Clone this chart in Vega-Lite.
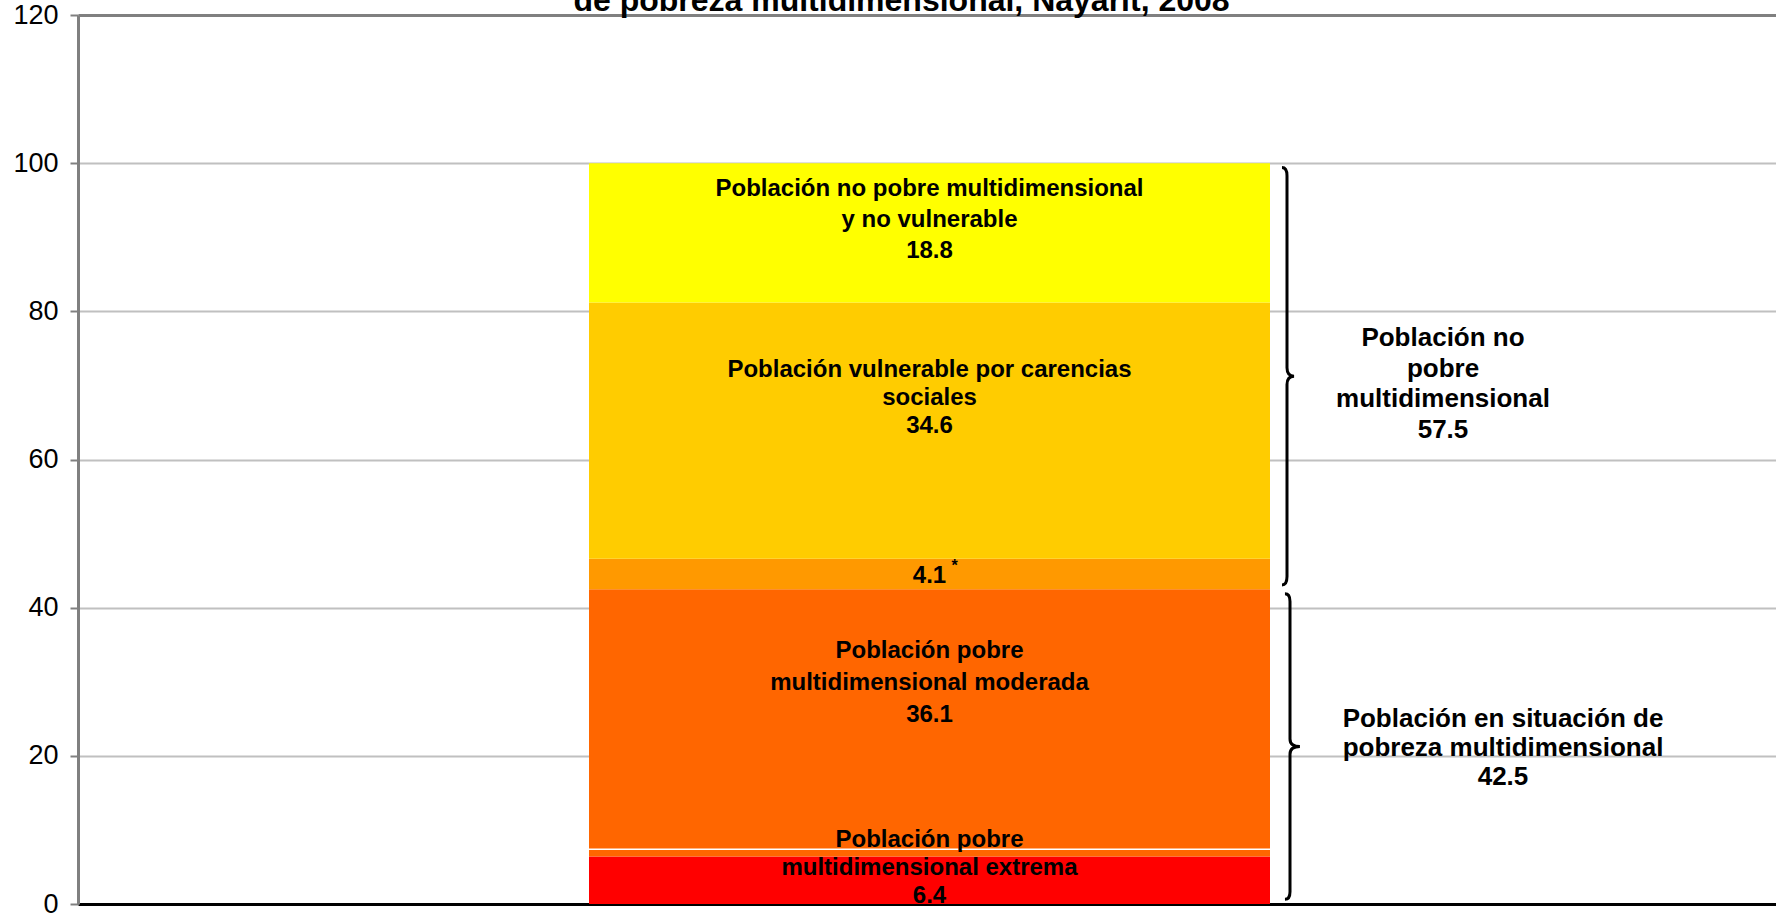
{
  "$schema": "https://vega.github.io/schema/vega-lite/v6.json",
  "width": 1703,
  "height": 889,
  "autosize": "none",
  "padding": {"left": 78, "top": 15, "right": 0, "bottom": 11},
  "background": "white",
  "config": {"view": {"stroke": null}, "font": "Liberation Sans"},
  "datasets": {
    "segmentos": [
      {"categoria": "Nayarit", "grupo": "Población pobre multidimensional extrema", "etiqueta": "Población pobre\nmultidimensional extrema\n6.4", "valor": 6.4, "orden": 1},
      {"categoria": "Nayarit", "grupo": "Población pobre multidimensional moderada", "etiqueta": "Población pobre\nmultidimensional moderada\n36.1", "valor": 36.1, "orden": 2},
      {"categoria": "Nayarit", "grupo": "Población vulnerable por ingresos", "etiqueta": "4.1", "valor": 4.1, "orden": 3},
      {"categoria": "Nayarit", "grupo": "Población vulnerable por carencias sociales", "etiqueta": "Población vulnerable por carencias\nsociales\n34.6", "valor": 34.6, "orden": 4},
      {"categoria": "Nayarit", "grupo": "Población no pobre multidimensional y no vulnerable", "etiqueta": "Población no pobre multidimensional\ny no vulnerable\n18.8", "valor": 18.8, "orden": 5}
    ],
    "grupos": [
      {"categoria": "Nayarit", "grupo": "Población en situación de pobreza multidimensional", "etiqueta": "Población en situación de\npobreza multidimensional\n42.5", "total": 42.5, "base": 0},
      {"categoria": "Nayarit", "grupo": "Población no pobre multidimensional", "etiqueta": "Población no\npobre\nmultidimensional\n57.5", "total": 57.5, "base": 42.5}
    ],
    "titulo": [
      {"categoria": "Nayarit", "texto": "de pobreza multidimensional, Nayarit, 2008", "tope": 120}
    ],
    "separador": [
      {"categoria": "Nayarit", "nivel": 7.4}
    ]
  },
  "layer": [
    {
      "data": {"name": "segmentos"},
      "mark": {"type": "bar", "size": 681},
      "encoding": {
        "x": {"field": "categoria", "type": "nominal", "axis": {"title": null, "labels": false, "ticks": false, "grid": false, "domainColor": "#000000", "domainWidth": 3}},
        "y": {"field": "valor", "type": "quantitative", "stack": "zero", "scale": {"domain": [0, 120], "nice": false},
          "axis": {"title": null, "values": [0, 20, 40, 60, 80, 100, 120], "grid": true,
            "gridColor": {"condition": {"test": "datum.value === 120", "value": "#808080"}, "value": "#C0C0C0"},
            "gridWidth": {"condition": {"test": "datum.value === 120", "value": 3}, "value": 2},
            "domainColor": "#808080", "domainWidth": 3, "tickColor": "#808080", "tickWidth": 2, "tickSize": 8,
            "labelFontSize": 27, "labelColor": "#000000", "labelPadding": 12, "labelFont": "Liberation Sans"}},
        "color": {"field": "grupo", "type": "nominal", "legend": null,
          "scale": {"domain": ["Población pobre multidimensional extrema", "Población pobre multidimensional moderada", "Población vulnerable por ingresos", "Población vulnerable por carencias sociales", "Población no pobre multidimensional y no vulnerable"],
            "range": ["#FF0000", "#FF6600", "#FF9900", "#FFCC00", "#FFFF00"]}},
        "order": {"field": "orden", "type": "quantitative"}
      }
    },
    {
      "data": {"name": "separador"},
      "mark": {"type": "tick", "color": "#FFFFFF", "size": 681, "thickness": 1.5, "orient": "horizontal", "opacity": 1},
      "encoding": {"x": {"field": "categoria", "type": "nominal"}, "y": {"field": "nivel", "type": "quantitative"}}
    },
    {
      "data": {"name": "segmentos"},
      "transform": [
        {"stack": "valor", "groupby": ["categoria"], "sort": [{"field": "orden", "order": "ascending"}], "as": ["y0", "y1"]},
        {"calculate": "(datum.y0 + datum.y1) / 2", "as": "medio"}
      ],
      "encoding": {
        "x": {"field": "categoria", "type": "nominal"},
        "y": {"field": "medio", "type": "quantitative"},
        "text": {"field": "etiqueta"}
      },
      "layer": [
        {"transform": [{"filter": "datum.orden == 1"}], "mark": {"type": "text", "dy": -40, "fontSize": 24, "fontWeight": "bold", "color": "#000000", "lineBreak": "\n", "lineHeight": 28, "baseline": "middle", "align": "center"}},
        {"transform": [{"filter": "datum.orden == 2"}], "mark": {"type": "text", "dy": -72, "fontSize": 24, "fontWeight": "bold", "color": "#000000", "lineBreak": "\n", "lineHeight": 32, "baseline": "middle", "align": "center"}},
        {"transform": [{"filter": "datum.orden == 3"}], "mark": {"type": "text", "dy": 2.5, "fontSize": 24, "fontWeight": "bold", "color": "#000000", "baseline": "middle", "align": "center"}},
        {"transform": [{"filter": "datum.orden == 3"}], "mark": {"type": "text", "dx": 25, "dy": -8, "fontSize": 16, "fontWeight": "bold", "color": "#000000", "baseline": "middle", "align": "center"}, "encoding": {"text": {"value": "*"}}},
        {"transform": [{"filter": "datum.orden == 4"}], "mark": {"type": "text", "dy": -60.6, "fontSize": 24, "fontWeight": "bold", "color": "#000000", "lineBreak": "\n", "lineHeight": 28, "baseline": "middle", "align": "center"}},
        {"transform": [{"filter": "datum.orden == 5"}], "mark": {"type": "text", "dy": -44, "fontSize": 24, "fontWeight": "bold", "color": "#000000", "lineBreak": "\n", "lineHeight": 31, "baseline": "middle", "align": "center"}}
      ]
    },
    {
      "data": {"name": "grupos"},
      "transform": [{"calculate": "datum.base + datum.total / 2", "as": "medio"}],
      "encoding": {
        "x": {"field": "categoria", "type": "nominal"},
        "y": {"field": "medio", "type": "quantitative"}
      },
      "layer": [
        {"transform": [{"filter": "datum.base > 0"}], "mark": {"type": "point", "shape": "M -0.024,-1 Q 0,-1 0,-0.96 L 0,-0.04 Q 0,0 0.034,0 Q 0,0 0,0.04 L 0,0.96 Q 0,1 -0.024,1", "size": 174306, "filled": false, "stroke": "#000000", "strokeWidth": 3, "opacity": 1, "xOffset": 357.5}},
        {"transform": [{"filter": "datum.base == 0"}], "mark": {"type": "point", "shape": "M -0.033,-1 Q 0,-1 0,-0.95 L 0,-0.05 Q 0,0 0.065,0 Q 0,0 0,0.05 L 0,0.95 Q 0,1 -0.033,1", "size": 93391, "filled": false, "stroke": "#000000", "strokeWidth": 3, "opacity": 1, "xOffset": 360.5}},
        {"transform": [{"filter": "datum.base > 0"}], "mark": {"type": "text", "dx": 513.5, "dy": -37.75, "fontSize": 26, "fontWeight": "bold", "color": "#000000", "lineBreak": "\n", "lineHeight": 30.5, "baseline": "middle", "align": "center"}, "encoding": {"text": {"field": "etiqueta"}}},
        {"transform": [{"filter": "datum.base == 0"}], "mark": {"type": "text", "dx": 573.5, "dy": -27.6, "fontSize": 26, "fontWeight": "bold", "color": "#000000", "lineBreak": "\n", "lineHeight": 29, "baseline": "middle", "align": "center"}, "encoding": {"text": {"field": "etiqueta"}}}
      ]
    },
    {
      "data": {"name": "titulo"},
      "mark": {"type": "text", "dx": -28, "dy": -4, "fontSize": 32, "fontWeight": "bold", "color": "#000000", "baseline": "alphabetic", "align": "center"},
      "encoding": {"x": {"field": "categoria", "type": "nominal"}, "y": {"field": "tope", "type": "quantitative"}, "text": {"field": "texto"}}
    }
  ]
}
